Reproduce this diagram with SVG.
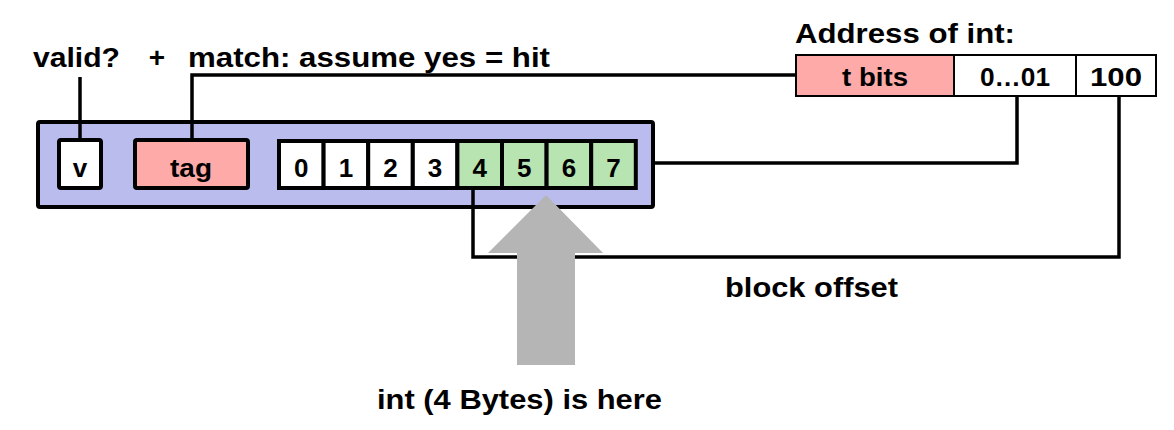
<svg xmlns="http://www.w3.org/2000/svg" width="1174" height="430" viewBox="0 0 1174 430">
  <style>
    .lbl { font-family: "Liberation Sans", Arial, sans-serif; font-weight: bold; font-size: 28px; fill: #000; }
    .cellt { font-family: "Liberation Sans", Arial, sans-serif; font-weight: bold; font-size: 26px; fill: #000; text-anchor: middle; }
    .addrt { font-family: "Liberation Sans", Arial, sans-serif; font-weight: bold; font-size: 26px; fill: #000; text-anchor: middle; }
    .line-box { fill: #bbbcee; stroke: #000; stroke-width: 4; }
    .box { stroke: #000; stroke-width: 4; }
    .white { fill: #ffffff; }
    .pink { fill: #fdaaa8; }
    .green { fill: #b8e4b2; }
    .abox { stroke: #000; stroke-width: 2; }
    .wire { fill: none; stroke: #000; stroke-width: 3.5; stroke-linejoin: miter; }
    .big-arrow { fill: #b5b5b5; }
  </style>

  <!-- cache line container -->
  <g id="cache-line">
    <rect class="line-box" x="38" y="122" width="615" height="85" rx="2"/>
  </g>

  <g id="valid-bit">
    <rect class="box white" x="59" y="140" width="42" height="48" rx="2"/>
    <text class="cellt" x="80" y="177">v</text>
  </g>

  <g id="tag">
    <rect class="box pink" x="135" y="140" width="113" height="48" rx="2"/>
    <text class="cellt" x="191" y="177" textLength="42" lengthAdjust="spacingAndGlyphs">tag</text>
  </g>

  <g id="block-bytes">
    <rect class="box white" x="279" y="141" width="44.6" height="47"/>
    <rect class="box white" x="323.6" y="141" width="44.6" height="47"/>
    <rect class="box white" x="368.2" y="141" width="44.6" height="47"/>
    <rect class="box white" x="412.8" y="141" width="44.6" height="47"/>
    <rect class="box green" x="457.4" y="141" width="44.6" height="47"/>
    <rect class="box green" x="502" y="141" width="44.6" height="47"/>
    <rect class="box green" x="546.6" y="141" width="44.6" height="47"/>
    <rect class="box green" x="591.2" y="141" width="44.6" height="47"/>
    <text class="cellt" x="301.3" y="177">0</text>
    <text class="cellt" x="345.9" y="177">1</text>
    <text class="cellt" x="390.5" y="177">2</text>
    <text class="cellt" x="435.1" y="177">3</text>
    <text class="cellt" x="479.7" y="177">4</text>
    <text class="cellt" x="524.3" y="177">5</text>
    <text class="cellt" x="568.9" y="177">6</text>
    <text class="cellt" x="613.5" y="177">7</text>
  </g>

  <!-- address split into tag / set index / offset -->
  <g id="address">
    <text class="lbl" x="795" y="43" textLength="220" lengthAdjust="spacingAndGlyphs">Address of int:</text>
    <rect class="abox pink" x="796" y="55" width="158" height="41"/>
    <rect class="abox white" x="954" y="55" width="122" height="41"/>
    <rect class="abox white" x="1076" y="55" width="80" height="41"/>
    <text class="addrt" x="875" y="86" textLength="66" lengthAdjust="spacingAndGlyphs">t bits</text>
    <text class="addrt" x="1015" y="86" textLength="70" lengthAdjust="spacingAndGlyphs">0…01</text>
    <text class="addrt" x="1116" y="86" textLength="52" lengthAdjust="spacingAndGlyphs">100</text>
  </g>

  <g id="labels">
    <text class="lbl" x="33" y="67" textLength="87" lengthAdjust="spacingAndGlyphs">valid?</text>
    <text class="lbl" x="157" y="67" text-anchor="middle">+</text>
    <text class="lbl" x="188" y="67" textLength="362" lengthAdjust="spacingAndGlyphs">match: assume yes = hit</text>
    <text class="lbl" x="725" y="297" textLength="173" lengthAdjust="spacingAndGlyphs">block offset</text>
    <text class="lbl" x="377" y="409" textLength="285" lengthAdjust="spacingAndGlyphs">int (4 Bytes) is here</text>
  </g>

  <g id="connectors">
    <path class="wire" d="M80 77 V140"/>
    <path class="wire" d="M192 140 V75 H796"/>
    <path class="wire" d="M653 163 H1017 V96"/>
    <path class="wire" d="M473 188 V257 H1119 V96"/>
  </g>

  <g id="pointer-arrow">
    <polygon class="big-arrow" points="546,195 603,253 575,253 575,365 517,365 517,253 488,253"/>
  </g>
</svg>
